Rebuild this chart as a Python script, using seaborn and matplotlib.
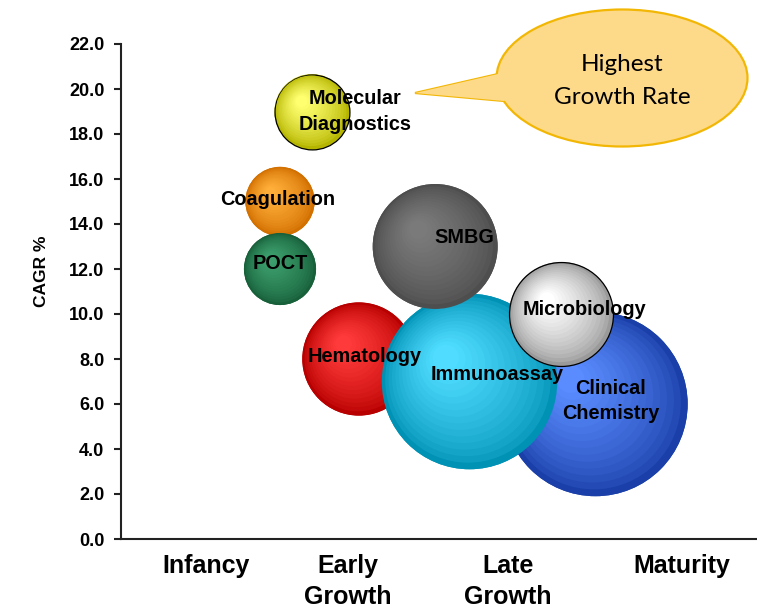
import matplotlib
matplotlib.use("Agg")
import matplotlib.pyplot as plt
import matplotlib.transforms as mtransforms
from matplotlib.colors import to_rgb
from matplotlib.patches import Ellipse, Polygon
import numpy as np
import pandas as pd
import seaborn as sns

# bubbles, listed in drawing order (back to front)
segments = ["Clinical\nChemistry", "Hematology", "Immunoassay", "SMBG", "Microbiology",
            "Molecular\nDiagnostics", "Coagulation", "POCT"]
stage_pos = [3.73, 1.87, 2.74, 2.47, 3.46, 1.50, 1.25, 1.25]
cagr = [6.0, 8.0, 7.0, 13.0, 10.0, 19.0, 15.0, 12.0]
market_size = [8.5, 3.2, 7.7, 3.9, 2.7, 1.4, 1.2, 1.3]

stage_labels = ["Infancy", "Early\nGrowth", "Late\nGrowth", "Maturity"]
stage_ticks = [0.67, 1.78, 3.04, 4.41]
cagr_ticks = [0, 2, 4, 6, 8, 10, 12, 14, 16, 18, 20, 22]

callout_text = "Highest\nGrowth Rate"

# rim colour, highlight colour
BUBBLE_COLORS = {
    "Clinical\nChemistry":   ("#1a3fa8", "#5a8cff"),
    "Hematology":            ("#b80000", "#ff3a3a"),
    "Immunoassay":           ("#0092b5", "#4fdcff"),
    "SMBG":                  ("#4e4e4e", "#7a7a7a"),
    "Microbiology":          ("#9a9a9a", "#ffffff"),
    "Molecular\nDiagnostics": ("#b5b500", "#ffff70"),
    "Coagulation":           ("#d27000", "#ffae3a"),
    "POCT":                  ("#17603a", "#3c9e6c"),
}
OUTLINED = {"Microbiology", "Molecular\nDiagnostics"}
# label nudge in points (x right, y up)
LABEL_NUDGE = {
    "Clinical\nChemistry": (11, 2),
    "Hematology": (4, 1.5),
    "Immunoassay": (20, 5),
    "SMBG": (21, 6.5),
    "Microbiology": (17, 3),
    "Molecular\nDiagnostics": (31, 0),
    "Coagulation": (-1.5, 1.5),
    "POCT": (0.5, 4),
}
SIZE_K = 2074.0  # points^2 per size unit

df = pd.DataFrame({"segment": segments, "stage": stage_pos,
                   "cagr": cagr, "size": market_size})

sns.set_style("white")
plt.rcParams["font.family"] = ["Liberation Sans", "DejaVu Sans"]
plt.rcParams.update({"text.color": "black", "axes.labelcolor": "black",
                     "xtick.color": "black", "ytick.color": "black"})

fig = plt.figure(figsize=(7.57, 6.13), dpi=100)
ax = fig.add_axes([121 / 757, 1 - 539 / 613, 636 / 757, 495 / 613])

smin, smax = min(market_size), max(market_size)
sns.scatterplot(data=df, x="stage", y="cagr", hue="segment", size="size",
                sizes=(SIZE_K * smin, SIZE_K * smax), size_norm=(smin, smax),
                palette={k: v[0] for k, v in BUBBLE_COLORS.items()},
                linewidth=0, legend=False, ax=ax, zorder=2)

# shaded sphere look: stack of shrinking, shifted discs per bubble
n_layers = 16
for i, row in df.iterrows():
    rim, hi = (np.array(to_rgb(c)) for c in BUBBLE_COLORS[row["segment"]])
    r_pt = np.sqrt(SIZE_K * row["size"]) / 2
    for k in range(n_layers):
        t = k / (n_layers - 1)
        rk = r_pt * (1 - 0.85 * t)
        off = 0.27 * r_pt * t
        col = rim + (hi - rim) * t ** 0.7
        tr = mtransforms.offset_copy(ax.transData, fig=fig, x=-off, y=off, units="points")
        edge = "black" if (k == 0 and row["segment"] in OUTLINED) else "none"
        ax.scatter([row["stage"]], [row["cagr"]], s=(2 * rk) ** 2, color=col,
                   edgecolors=edge, linewidths=0.9, transform=tr,
                   zorder=3 + i + k / (n_layers + 1))

for _, row in df.iterrows():
    dx, dy = LABEL_NUDGE[row["segment"]]
    ax.annotate(row["segment"], (row["stage"], row["cagr"]), xytext=(dx, dy),
                textcoords="offset points", ha="center", va="center",
                fontsize=14.3, fontweight="bold", linespacing=1.42, zorder=30)

ax.set_xlim(0, 5)
ax.set_ylim(0, 22)
ax.set_yticks(cagr_ticks)
ax.set_yticklabels([f"{v:.1f}" for v in cagr_ticks], fontsize=13, fontweight="bold")
ax.set_xticks(stage_ticks)
ax.set_xticklabels(stage_labels, fontsize=18, fontweight="bold", linespacing=1.35)
ax.tick_params(axis="y", length=5, width=1.5, pad=7, color="#222222", left=True)
ax.tick_params(axis="x", length=0, pad=11)
ax.set_xlabel("")
ax.set_ylabel("CAGR %", fontsize=12.5, fontweight="bold")
ax.yaxis.set_label_coords(-0.113, 0.54)

sns.despine(ax=ax)
for side in ("left", "bottom"):
    ax.spines[side].set_color("#222222")
    ax.spines[side].set_linewidth(1.5)

# speech bubble callout (figure pixel coordinates, y from top)
px = mtransforms.Affine2D().scale(1 / 100, -1 / 100).translate(0, 6.13) + fig.dpi_scale_trans
face, line = "#fdd98a", "#f2b705"
tail = [(415, 93), (498, 74), (504, 101)]
fig.add_artist(Polygon(tail, closed=True, facecolor=face, edgecolor=line,
                       linewidth=1.6, transform=px, zorder=40))
fig.add_artist(Ellipse((622, 78), 251, 137, facecolor=face, edgecolor=line,
                       linewidth=1.6, transform=px, zorder=41))
fig.add_artist(Polygon([(415, 93), (498, 74), (530, 87), (504, 101)], closed=True,
                       facecolor=face, edgecolor="none", transform=px, zorder=42))
fig.text(622 / 757, 1 - 81 / 613, callout_text, ha="center", va="center",
         fontsize=17.5, family=["Lato", "DejaVu Sans"], linespacing=1.65, zorder=43)

fig.savefig("out.png", dpi=100)
